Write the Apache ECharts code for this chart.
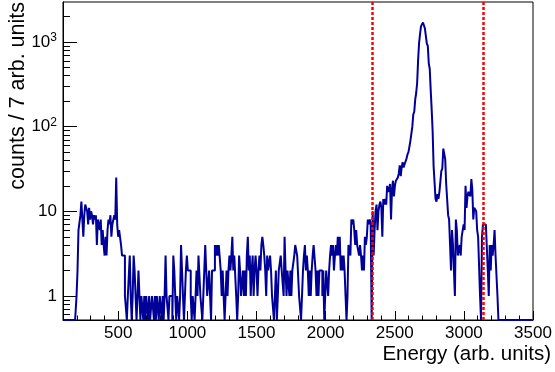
<!DOCTYPE html>
<html>
<head>
<meta charset="utf-8">
<script src="https://cdn.jsdelivr.net/npm/echarts@6/dist/echarts.min.js"></script>
<style>
  html, body { margin: 0; padding: 0; background: #ffffff; }
  #chart { width: 555px; height: 372px; }
</style>
</head>
<body>
<div id="chart"></div>
<script>
// Binning of the energy spectrum
const BIN_WIDTH = 7;
const AXIS_MIN_E = 100;
const AXIS_MAX_E = 3500;
const FIRST_FILLED_EDGE = 198;   // lower edge of the first bin in lowEnergyCounts

// Counts per bin, consecutive bins starting at FIRST_FILLED_EDGE
const lowEnergyCounts = [
  1, 2, 6, 6, 9, 13, 8, 5, 9, 12, 12, 10, 7, 11, 8, 10, 9, 7, 9, 8,
  9, 4, 8, 7, 6, 8, 4, 6, 4, 3, 5, 3, 6, 8, 7, 9, 5, 7, 7, 9,
  8, 25, 7, 5, 6, 6, 4, 3, 3, 3
];
const continuumCounts = [
  1, 1, 0, 1, 1, 3, 1, 0, 1, 3, 2, 1, 0, 1, 2, 1, 0, 1, 1, 0,
  1, 0, 1, 1, 0, 1, 0, 0, 1, 1, 0, 1, 0, 1, 1, 0, 1, 1, 0, 1,
  0, 1, 3, 1, 1, 0, 1, 1, 1, 0, 3, 2, 1, 0, 1, 1, 0, 1, 4, 2,
  1, 0, 1, 2, 3, 2, 2, 2, 1, 0, 1, 1, 0, 1, 2, 1, 3, 3, 1, 1,
  0, 1, 2, 4, 4, 1, 1, 2, 1, 0, 2, 2, 2, 4, 3, 4, 3, 4, 4, 2,
  1, 2, 1, 0, 1, 2, 1, 2, 3, 2, 3, 5, 2, 3, 3, 1, 0, 1, 3, 2,
  1, 1, 2, 1, 2, 1, 3, 5, 2, 3, 1, 2, 3, 1, 2, 3, 2, 1, 2, 3,
  2, 4, 5, 4, 3, 2, 1, 3, 2, 2, 3, 2, 1, 1, 0, 1, 2, 0, 1, 2,
  2, 3, 2, 2, 1, 5, 2, 1, 2, 2, 1, 2, 1, 2, 2, 3, 4, 4, 3, 3,
  1, 1, 0, 1, 2, 3, 4, 2, 3, 2, 1, 2, 1, 2, 3, 4, 4, 2, 1, 2,
  1, 2, 2, 2, 1, 2, 0, 0, 2, 2, 1, 2, 3, 4, 3, 4, 2, 3, 4, 3,
  5, 3, 5, 2, 3, 2, 3, 2, 1, 0, 1, 4, 4, 3, 8, 7, 8, 6, 4, 6,
  4, 4, 3, 4, 3, 2, 3, 2, 5, 4, 5, 8, 7, 8, 7, 0
];
const peakCounts = [
  10, 3, 6, 10, 12, 6, 10, 12, 13, 11, 5, 14, 12, 14, 12, 20, 17, 18, 21, 8,
  18, 23, 15, 20, 23, 23, 25, 28, 35, 26, 33, 38, 33, 36, 38, 42, 47, 50, 58, 68,
  68, 100, 140, 150, 210, 250, 330, 620, 980, 1250, 1540, 1620, 1700, 1680, 1450, 1400, 960, 900, 560, 480,
  270, 160, 88, 34, 33, 14, 13, 16, 14, 17, 17, 30, 32, 55, 48, 41, 21, 20, 9, 8,
  8, 2, 6, 4, 4, 1, 8, 6, 3, 3, 4, 3, 5, 5, 7, 6, 20, 11, 15, 17,
  17, 15, 24, 18, 8, 11, 11, 10, 6, 5, 5, 1, 0, 5, 7, 7, 7, 7, 7, 2,
  1, 4, 2, 4, 3, 4, 6, 3, 3, 1, 0
];

// Selection window drawn as dashed vertical lines
const windowEdges = [2340, 3140];

// Axis ticks
const xMajorTicks = [500, 1000, 1500, 2000, 2500, 3000, 3500];
const yMajorTicks = [1, 10, 100, 1000];
const Y_MIN = 0.52;
const Y_MAX = 2970;

// Secondary ticks: every 100 on x, 2..9 per decade on y
const xMinorTicks = [];
for (let e = 200; e < AXIS_MAX_E; e += 100) {
  if (e % 500 !== 0) xMinorTicks.push(e);
}
const yMinorTicks = [];
[0.1, 1, 10, 100, 1000].forEach(function (decade) {
  for (let m = 2; m <= 9; m++) {
    const v = m * decade;
    if (v > Y_MIN && v < Y_MAX) yMinorTicks.push(v);
  }
});

// Full histogram over the axis range; empty bins sit on the lower frame edge
const filled = lowEnergyCounts.concat(continuumCounts, peakCounts);
const firstIndex = (FIRST_FILLED_EDGE - AXIS_MIN_E) / BIN_WIDTH;
const nBins = Math.ceil((AXIS_MAX_E - AXIS_MIN_E) / BIN_WIDTH);
const histData = [];
for (let k = 0; k < nBins; k++) {
  const j = k - firstIndex;
  const count = (j >= 0 && j < filled.length) ? filled[j] : 0;
  const center = AXIS_MIN_E + BIN_WIDTH * k + BIN_WIDTH / 2;
  histData.push([center, count > 0 ? count : Y_MIN]);
}

const FONT = 'Liberation Sans, Arial, Helvetica, sans-serif';

function yLabel(v) {
  if (v >= 100) {
    return '{b|10}{s|' + Math.round(Math.log10(v)) + '}';
  }
  return '{b|' + v + '}';
}

const chart = echarts.init(document.getElementById('chart'), null, { renderer: 'canvas' });

chart.setOption({
  animation: false,
  backgroundColor: '#ffffff',
  grid: {
    left: 63, top: 2, width: 470, height: 318,
    show: true, borderColor: '#000000', borderWidth: 1, backgroundColor: 'transparent'
  },
  xAxis: [
    {
      type: 'value', min: AXIS_MIN_E, max: AXIS_MAX_E, position: 'bottom',
      axisLine: { show: true, lineStyle: { color: '#000000', width: 1 } },
      axisTick: { show: true, inside: true, length: 9, customValues: xMajorTicks,
                  lineStyle: { color: '#000000', width: 1 } },
      axisLabel: { show: true, customValues: xMajorTicks, margin: 5,
                   formatter: function (v) { return String(v); },
                   color: '#000000', fontSize: 17, fontFamily: FONT },
      splitLine: { show: false }
    },
    {
      type: 'value', min: AXIS_MIN_E, max: AXIS_MAX_E, position: 'bottom',
      axisLine: { show: false },
      axisTick: { show: true, inside: true, length: 4.5, customValues: xMinorTicks,
                  lineStyle: { color: '#000000', width: 1 } },
      axisLabel: { show: false },
      splitLine: { show: false }
    }
  ],
  yAxis: [
    {
      type: 'log', min: Y_MIN, max: Y_MAX, position: 'left',
      axisLine: { show: true, lineStyle: { color: '#000000', width: 1 } },
      axisTick: { show: true, inside: true, length: 14, customValues: yMajorTicks,
                  lineStyle: { color: '#000000', width: 1 } },
      axisLabel: {
        show: true, customValues: yMajorTicks, margin: 6, color: '#000000',
        formatter: yLabel,
        rich: {
          b: { fontSize: 17, fontFamily: FONT, color: '#000000' },
          s: { fontSize: 12, fontFamily: FONT, color: '#000000', verticalAlign: 'top', padding: [0, 0, 8, 0] }
        }
      },
      splitLine: { show: false }
    },
    {
      type: 'log', min: Y_MIN, max: Y_MAX, position: 'left',
      axisLine: { show: false },
      axisTick: { show: true, inside: true, length: 7, customValues: yMinorTicks,
                  lineStyle: { color: '#000000', width: 1 } },
      axisLabel: { show: false },
      splitLine: { show: false }
    }
  ],
  graphic: [
    {
      type: 'text', x: 551, y: 354,
      style: { text: 'Energy (arb. units)', font: '20.5px ' + FONT, fill: '#000000',
               align: 'right', verticalAlign: 'middle' }
    },
    {
      type: 'text', x: 18, y: 2, rotation: Math.PI / 2,
      style: { text: 'counts / 7 arb. units', font: '21.5px ' + FONT, fill: '#000000',
               align: 'right', verticalAlign: 'middle' }
    }
  ],
  series: [
    {
      type: 'line', step: 'middle', xAxisIndex: 0, yAxisIndex: 0,
      data: histData, symbol: 'none', clip: true,
      lineStyle: { color: '#000099', width: 2 },
      markLine: {
        silent: true, symbol: 'none', animation: false,
        label: { show: false },
        lineStyle: { color: '#ff0000', type: [3, 2], width: 2.5 },
        data: windowEdges.map(function (e) { return { xAxis: e }; })
      }
    }
  ]
});
</script>
</body>
</html>
